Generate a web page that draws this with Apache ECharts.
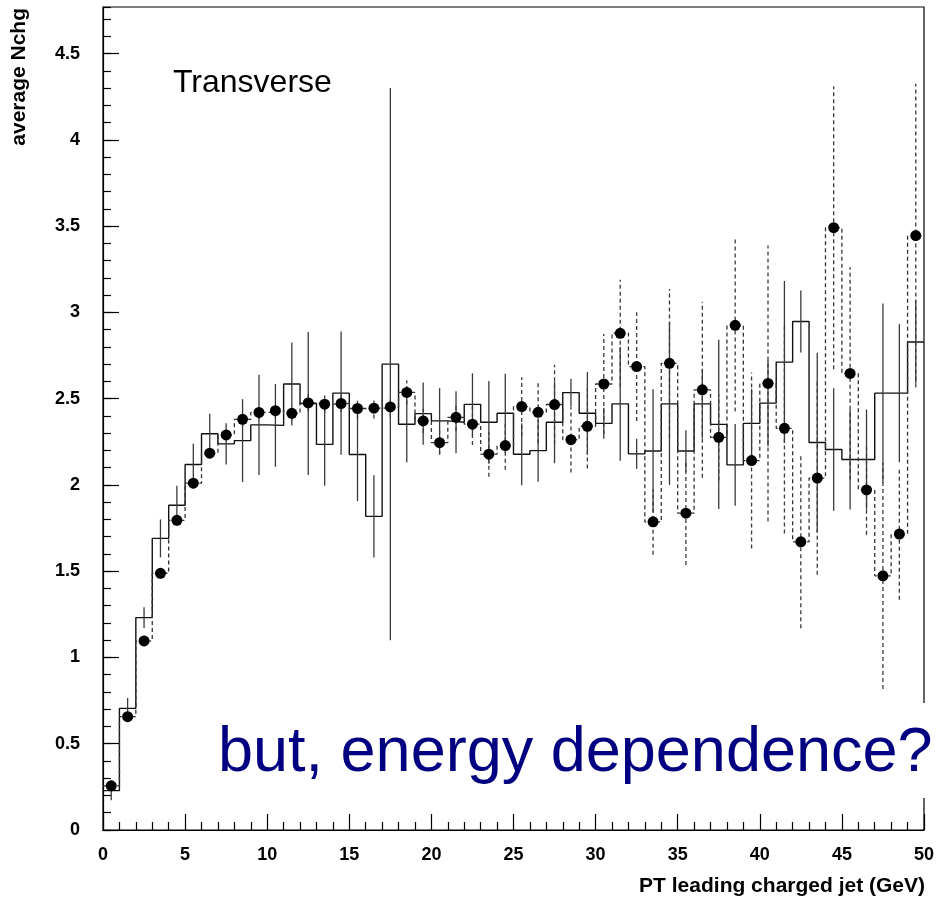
<!DOCTYPE html>
<html>
<head>
<meta charset="utf-8">
<title>Transverse - average Nchg</title>
<script src="https://cdn.jsdelivr.net/npm/echarts@6/dist/echarts.min.js"></script>
<style>
    html, body { margin: 0; padding: 0; background: #fff; }
    #chart { width: 937px; height: 898px; }
</style>
</head>
<body>
<div id="chart"></div>
<script>
// 50 bins of 1 GeV, 0..50
const binLow = 0
const binWidth = 1
const nBins = 50
const yMax = 4.77

// solid histogram + solid error bars
const histValues = [
    0.228, 0.705, 1.231, 1.690, 1.882, 2.118, 2.297, 2.238, 2.257, 2.348,
    2.345, 2.585, 2.472, 2.235, 2.532, 2.176, 1.818, 2.700, 2.352, 2.413,
    2.371, 2.363, 2.467, 2.363, 2.415, 2.178, 2.199, 2.363, 2.535, 2.415,
    2.357, 2.470, 2.180, 2.197, 2.470, 2.197, 2.470, 2.351, 2.116, 2.357,
    2.474, 2.712, 2.947, 2.246, 2.205, 2.147, 2.147, 2.532, 2.532, 2.828
]
const histErrors = [
    0.055, 0.060, 0.060, 0.110, 0.113, 0.120, 0.116, 0.120, 0.240, 0.290,
    0.240, 0.240, 0.415, 0.240, 0.357, 0.270, 0.238, 1.600, 0.220, 0.180,
    0.190, 0.180, 0.180, 0.240, 0.230, 0.180, 0.180, 0.237, 0.080, 0.240,
    0.090, 0.330, 0.087, 0.358, 0.470, 0.120, 0.200, 0.490, 0.237, 0.200,
    0.250, 0.470, 0.180, 0.520, 0.355, 0.290, 0.290, 0.520, 0.400, 0.240
]

// points: dashed histogram, dashed error bars, filled circles
const pointValues = [
    0.256, 0.657, 1.096, 1.488, 1.795, 2.010, 2.184, 2.290, 2.380, 2.420,
    2.430, 2.415, 2.475, 2.468, 2.472, 2.443, 2.445, 2.452, 2.536, 2.371,
    2.245, 2.392, 2.352, 2.178, 2.228, 2.454, 2.421, 2.466, 2.262, 2.340,
    2.585, 2.879, 2.686, 1.786, 2.705, 1.836, 2.551, 2.276, 2.925, 2.141,
    2.588, 2.328, 1.670, 2.040, 3.491, 2.646, 1.971, 1.473, 1.715, 3.445
]
const pointErrors = [
    0.030, 0.020, 0.030, 0.030, 0.030, 0.030, 0.030, 0.030, 0.040, 0.040,
    0.040, 0.040, 0.050, 0.050, 0.050, 0.060, 0.060, 0.060, 0.070, 0.070,
    0.070, 0.080, 0.120, 0.130, 0.140, 0.170, 0.180, 0.230, 0.190, 0.245,
    0.290, 0.310, 0.315, 0.190, 0.430, 0.300, 0.510, 0.250, 0.500, 0.510,
    0.800, 0.610, 0.500, 0.560, 0.820, 0.616, 0.260, 0.656, 0.380, 0.880
]

const FONT = '"Liberation Sans", Arial, sans-serif'

const centers = histValues.map((_, i) => binLow + binWidth * (i + 0.5))

// step outline: left edge of every bin, plus the right edge of the last one
const stepData = vals => vals.map((v, i) => [binLow + binWidth * i, v])
    .concat([[binLow + binWidth * nBins, vals[vals.length - 1]]])

const errorData = (vals, errs) => centers.map((c, i) => [c, vals[i] - errs[i], vals[i] + errs[i]])

const errorRenderer = (color, dash) => (params, api) => {
    const p1 = api.coord([api.value(0), api.value(1)])
    const p2 = api.coord([api.value(0), api.value(2)])
    return {
        type: 'line',
        shape: { x1: p1[0], y1: p1[1], x2: p2[0], y2: p2[1] },
        style: { stroke: color, lineWidth: 1.3, lineDash: dash }
    }
}

const axisBlack = { color: '#000', width: 1.2 }

const chart = echarts.init(document.getElementById('chart'))
chart.setOption({
    animation: false,
    backgroundColor: '#fff',
    grid: {
        left: 103, right: 12, top: 7, bottom: 68,
        show: true, borderColor: '#000', borderWidth: 1.2
    },
    xAxis: {
        type: 'value', min: 0, max: 50, interval: 5,
        axisLine: { onZero: false, lineStyle: axisBlack },
        axisTick: { inside: true, length: 16, lineStyle: axisBlack },
        minorTick: { show: true, splitNumber: 5, length: 8, lineStyle: axisBlack },
        axisLabel: { margin: 16, color: '#000', fontFamily: FONT, fontWeight: 'bold', fontSize: 18 },
        splitLine: { show: false }
    },
    yAxis: [
        {
            type: 'value', min: 0, max: yMax, interval: 0.5, position: 'left',
            axisLine: { show: true, onZero: false, lineStyle: axisBlack },
            axisTick: { inside: true, length: 16, lineStyle: axisBlack },
            axisLabel: {
                margin: 23, color: '#000', fontFamily: FONT, fontWeight: 'bold', fontSize: 18,
                showMaxLabel: false,
                formatter: v => Math.abs(v * 2 - Math.round(v * 2)) < 1e-6 ? String(+v.toFixed(1)) : ''
            },
            splitLine: { show: false }
        },
        {
            // minor ticks every 0.1
            type: 'value', min: 0, max: yMax, interval: 0.1, position: 'left',
            axisLine: { show: false },
            axisTick: { inside: true, length: 8, lineStyle: axisBlack },
            axisLabel: { show: false },
            splitLine: { show: false }
        }
    ],
    series: [
        {
            type: 'line', step: 'end', symbol: 'none',
            data: stepData(histValues),
            lineStyle: { color: '#111', width: 1.4 },
            z: 2
        },
        {
            type: 'custom', clip: true,
            renderItem: errorRenderer('#3a3a3a', null),
            data: errorData(histValues, histErrors),
            encode: { x: 0, y: [1, 2] },
            z: 3
        },
        {
            type: 'line', step: 'end', symbol: 'none',
            data: stepData(pointValues),
            lineStyle: { color: '#333', width: 1.3, type: [4, 3] },
            z: 3
        },
        {
            type: 'custom', clip: true,
            renderItem: errorRenderer('#3a3a3a', [4, 3]),
            data: errorData(pointValues, pointErrors),
            encode: { x: 0, y: [1, 2] },
            z: 4
        },
        {
            type: 'scatter', symbol: 'circle', symbolSize: 11,
            data: centers.map((c, i) => [c, pointValues[i]]),
            itemStyle: { color: '#000', opacity: 1 },
            z: 5
        }
    ],
    graphic: [
        {
            type: 'text', x: 19, y: 8, rotation: Math.PI / 2,
            style: { text: 'average Nchg', font: 'bold 21px ' + FONT, fill: '#000', align: 'right', verticalAlign: 'middle' }
        },
        {
            type: 'text', x: 925, y: 886,
            style: { text: 'PT leading charged jet (GeV)', font: 'bold 21px ' + FONT, fill: '#000', align: 'right', verticalAlign: 'middle' }
        },
        {
            type: 'text', x: 173, y: 83,
            style: { text: 'Transverse', font: '32px ' + FONT, fill: '#000', align: 'left', verticalAlign: 'middle' }
        },
        {
            type: 'rect', z: 100,
            shape: { x: 198, y: 703, width: 739, height: 95 },
            style: { fill: '#fff' }
        },
        {
            type: 'text', z: 101, x: 218, y: 754,
            style: { text: 'but, energy dependence?', font: '63px ' + FONT, fill: '#000080', align: 'left', verticalAlign: 'middle' }
        }
    ]
})
</script>
</body>
</html>
